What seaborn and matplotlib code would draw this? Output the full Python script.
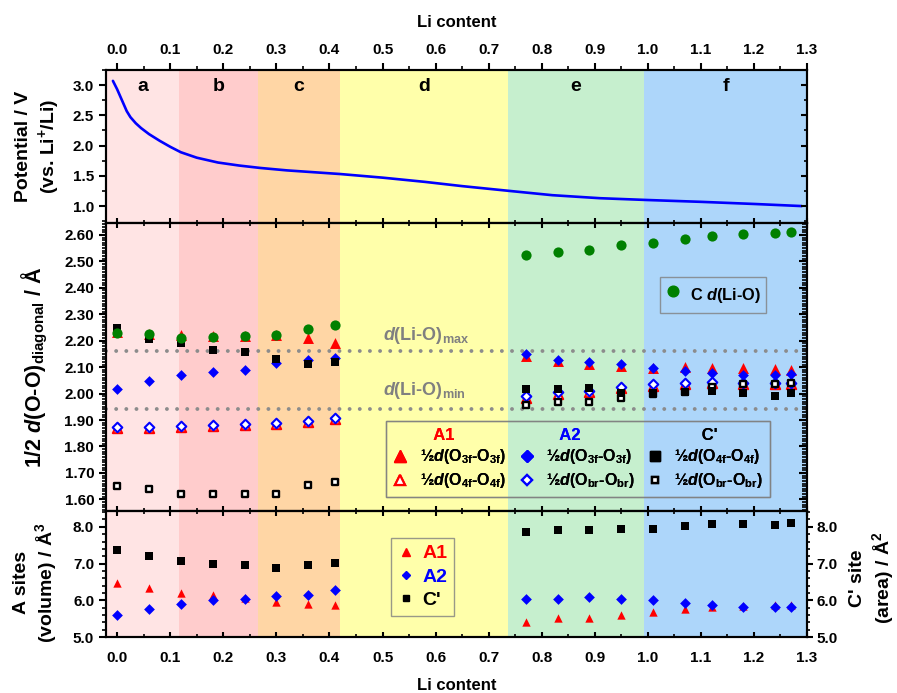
import matplotlib
matplotlib.use("Agg")
import matplotlib.pyplot as plt
import seaborn as sns
from matplotlib.ticker import MultipleLocator, FormatStrFormatter
from matplotlib.lines import Line2D

# ---------------- data ----------------
li_curve = [-0.008, 0.0, 0.01, 0.018, 0.025, 0.035, 0.045, 0.06, 0.08, 0.10, 0.12,
            0.15, 0.19, 0.23, 0.27, 0.32, 0.37, 0.42, 0.50, 0.58, 0.65, 0.74,
            0.82, 0.91, 1.00, 1.10, 1.20, 1.29]
pot_curve = [3.07, 2.93, 2.73, 2.57, 2.47, 2.37, 2.29, 2.19, 2.08, 1.98, 1.89,
             1.80, 1.72, 1.67, 1.63, 1.59, 1.56, 1.53, 1.47, 1.40, 1.33, 1.25,
             1.18, 1.13, 1.10, 1.07, 1.035, 1.00]

region_names = ['a', 'b', 'c', 'd', 'e', 'f']
region_edges = [-0.021, 0.117, 0.266, 0.42, 0.736, 0.993, 1.3]
region_colors = ['#FFE4E4', '#FFCCCC', '#FFD6A5', '#FFFFAA', '#C6EFCE', '#ADD6FA']

li_left = [0.0, 0.06, 0.12, 0.18, 0.24, 0.30, 0.36, 0.41]
li_right = [0.77, 0.83, 0.89, 0.95, 1.01, 1.07, 1.12, 1.18, 1.24, 1.27]
li_pts = li_left + li_right

# middle panel: 1/2 d(O-O) diagonal / Angstrom
c_li_o = [2.228, 2.224, 2.212, 2.214, 2.217, 2.220, 2.246, 2.258,
          2.524, 2.537, 2.543, 2.560, 2.571, 2.586, 2.596, 2.605, 2.609, 2.610]
a1_o3f = [2.232, 2.227, 2.222, 2.217, 2.216, 2.222, 2.209, 2.193,
          2.143, 2.125, 2.113, 2.103, 2.098, 2.100, 2.097, 2.096, 2.092, 2.090]
a1_o4f = [1.870, 1.871, 1.873, 1.877, 1.881, 1.885, 1.893, 1.903,
          1.985, 2.000, 2.006, 2.021, 2.030, 2.035, 2.040, 2.035, 2.035, 2.035]
a2_o3f = [2.016, 2.046, 2.069, 2.080, 2.090, 2.114, 2.127, 2.133,
          2.150, 2.127, 2.121, 2.111, 2.098, 2.087, 2.077, 2.070, 2.070, 2.073]
a2_obr = [1.874, 1.875, 1.877, 1.881, 1.885, 1.889, 1.896, 1.906,
          1.990, 2.005, 2.010, 2.026, 2.035, 2.040, 2.045, 2.040, 2.040, 2.040]
cp_o4f = [2.247, 2.205, 2.190, 2.165, 2.156, 2.131, 2.112, 2.120,
          2.016, 2.017, 2.020, 2.001, 2.001, 2.007, 2.011, 2.001, 1.991, 2.001]
cp_obr = [1.650, 1.640, 1.621, 1.621, 1.621, 1.622, 1.654, 1.664,
          1.957, 1.967, 1.967, 1.982, 2.000, 2.005, 2.024, 2.035, 2.035, 2.039]
dli_max = 2.16
dli_min = 1.94

# bottom panel: site volumes / areas
vol_a1 = [6.48, 6.34, 6.19, 6.13, 6.05, 5.95, 5.89, 5.86,
          5.40, 5.52, 5.52, 5.60, 5.67, 5.76, 5.81, 5.85, 5.86, 5.88]
vol_a2 = [5.61, 5.75, 5.91, 6.00, 6.04, 6.11, 6.15, 6.28,
          6.04, 6.04, 6.09, 6.04, 6.00, 5.93, 5.88, 5.82, 5.82, 5.82]
area_cp = [7.38, 7.20, 7.08, 6.99, 6.97, 6.88, 6.96, 7.02,
           7.86, 7.91, 7.91, 7.93, 7.95, 8.03, 8.07, 8.07, 8.05, 8.11]

# ---------------- style ----------------
sns.set_style("ticks")
plt.rcParams.update({
    'font.family': ['Liberation Sans', 'DejaVu Sans'],
    'font.weight': 'bold',
    'axes.labelweight': 'bold',
    'mathtext.fontset': 'custom',
    'mathtext.rm': 'Liberation Sans:bold',
    'mathtext.it': 'Liberation Sans:italic:bold',
    'mathtext.bf': 'Liberation Sans:bold',
    'axes.edgecolor': 'black',
    'axes.labelcolor': 'black',
    'text.color': 'black',
    'xtick.color': 'black',
    'ytick.color': 'black',
    'axes.linewidth': 1.5,
})

RED, BLUE, GREEN, BLACK = '#FF0000', '#0000FF', '#008000', '#000000'

fig = plt.figure(figsize=(8.97, 6.93), dpi=100)
L, W = 0.1182, 0.7815
ax_top = fig.add_axes([L, 0.6782, W, 0.2208])
ax_mid = fig.add_axes([L, 0.2626, W, 0.4156], sharex=ax_top)
ax_bot = fig.add_axes([L, 0.0808, W, 0.1818], sharex=ax_top)

xlim = (region_edges[0], region_edges[-1])
for ax in (ax_top, ax_mid, ax_bot):
    for lo, hi, col in zip(region_edges[:-1], region_edges[1:], region_colors):
        ax.axvspan(lo, hi, color=col, lw=0, zorder=0)

# ---- top panel ----
sns.lineplot(x=li_curve, y=pot_curve, ax=ax_top, color=BLUE, linewidth=1.9,
             sort=False, estimator=None)
for lo, hi, name in zip(region_edges[:-1], region_edges[1:], region_names):
    ax_top.text((lo + hi) / 2, 0.89, name, transform=ax_top.get_xaxis_transform(),
                ha='center', va='center', fontsize=14, fontweight='bold')


def pts(ax, y, marker, s, face, edge, lw, z):
    sns.scatterplot(x=li_pts, y=y, ax=ax, marker=marker, s=s, color=face,
                    edgecolor=edge, linewidth=lw, zorder=z, legend=False)


# ---- middle panel ----
ax_mid.axhline(dli_max, color='#8C8C8C', lw=2.8, linestyle=(0, (0.01, 2.6)),
               dash_capstyle='round', zorder=1)
ax_mid.axhline(dli_min, color='#8C8C8C', lw=2.8, linestyle=(0, (0.01, 2.6)),
               dash_capstyle='round', zorder=1)
ax_mid.text(0.50, dli_max + 0.042, r"$d$(Li-O)$_{\mathrm{max}}$", color='#808080',
            fontsize=13, fontweight='bold', va='baseline', ha='left')
ax_mid.text(0.50, dli_min + 0.055, r"$d$(Li-O)$_{\mathrm{min}}$", color='#808080',
            fontsize=13, fontweight='bold', va='baseline', ha='left')

pts(ax_mid, a1_o3f, '^', 62, RED, RED, 0, 2)
pts(ax_mid, a1_o4f, '^', 45, 'white', RED, 1.5, 2.1)
pts(ax_mid, a2_o3f, 'D', 30, BLUE, BLUE, 0, 2.2)
pts(ax_mid, a2_obr, 'D', 24, 'white', BLUE, 1.5, 2.3)
pts(ax_mid, cp_obr, 's', 16, 'white', BLACK, 1.7, 2.4)
pts(ax_mid, cp_o4f, 's', 40, BLACK, BLACK, 0, 2.5)
pts(ax_mid, c_li_o, 'o', 54, GREEN, GREEN, 0, 2.6)

h_c = Line2D([], [], ls='none', marker='o', ms=7.7, color=GREEN, mec=GREEN)
leg1 = ax_mid.legend([h_c], [r"C $d$(Li-O)"], loc='center', bbox_to_anchor=(0.866, 0.75),
                     frameon=True, fancybox=False, edgecolor='#808080', facecolor='none',
                     fontsize=11.8, handlelength=0.9, handletextpad=0.6, borderpad=0.3,
                     handleheight=2.0)
leg1.get_frame().set_linewidth(1.0)
ax_mid.add_artist(leg1)

blank = Line2D([], [], ls='none')
h_a1f = Line2D([], [], ls='none', marker='^', ms=8.5, color=RED, mec=RED)
h_a1o = Line2D([], [], ls='none', marker='^', ms=7.3, mfc='white', mec=RED, mew=1.6)
h_a2f = Line2D([], [], ls='none', marker='D', ms=6.0, color=BLUE, mec=BLUE)
h_a2o = Line2D([], [], ls='none', marker='D', ms=5.2, mfc='white', mec=BLUE, mew=1.6)
h_cf = Line2D([], [], ls='none', marker='s', ms=6.5, color=BLACK, mec=BLACK)
h_co = Line2D([], [], ls='none', marker='s', ms=5.0, mfc='white', mec=BLACK, mew=1.7)
lab_o3f = r"½$d$(O$_{\mathrm{3f}}$-O$_{\mathrm{3f}}$)"
lab_o4f = r"½$d$(O$_{\mathrm{4f}}$-O$_{\mathrm{4f}}$)"
lab_obr = r"½$d$(O$_{\mathrm{br}}$-O$_{\mathrm{br}}$)"
handles = [blank, h_a1f, h_a1o, blank, h_a2f, h_a2o, blank, h_cf, h_co]
labels = ['   A1', lab_o3f, lab_o4f, '   A2', lab_o3f, lab_obr, "      C'", lab_o4f, lab_obr]
leg2 = ax_mid.legend(handles, labels, ncol=3, loc='center', bbox_to_anchor=(0.673, 0.181),
                     frameon=True, fancybox=False, edgecolor='#808080', facecolor='none',
                     fontsize=11.5, handlelength=1.0, handletextpad=0.7, columnspacing=0.8,
                     labelspacing=0.3, borderpad=0.4)
leg2.get_frame().set_linewidth(1.0)
for i, col in zip((0, 3, 6), (RED, BLUE, BLACK)):
    leg2.get_texts()[i].set_color(col)
    leg2.get_texts()[i].set_fontsize(12)
ax_mid.add_artist(leg2)

# ---- bottom panel ----
ax_bot_r = ax_bot.twinx()
pts(ax_bot, vol_a1, '^', 36, RED, RED, 0, 2)
pts(ax_bot, vol_a2, 'D', 30, BLUE, BLUE, 0, 2.2)
pts(ax_bot_r, area_cp, 's', 32, BLACK, BLACK, 0, 2.4)

hb1 = Line2D([], [], ls='none', marker='^', ms=6.2, color=RED, mec=RED)
hb2 = Line2D([], [], ls='none', marker='D', ms=4.5, color=BLUE, mec=BLUE)
hb3 = Line2D([], [], ls='none', marker='s', ms=5.0, color=BLACK, mec=BLACK)
leg3 = ax_bot.legend([hb1, hb2, hb3], ['A1', 'A2', "C'"], loc='center',
                     bbox_to_anchor=(0.4515, 0.476), frameon=True, fancybox=False,
                     edgecolor='#808080', facecolor='none', fontsize=14,
                     handlelength=0.8, handletextpad=0.45, labelspacing=0.3, borderpad=0.35)
leg3.get_frame().set_linewidth(1.0)
for t, col in zip(leg3.get_texts(), (RED, BLUE, BLACK)):
    t.set_color(col)

# ---- axes limits & ticks ----
ax_top.set_xlim(*xlim)
ax_top.set_ylim(0.72, 3.25)
ax_mid.set_ylim(1.556, 2.645)
ax_bot.set_ylim(5.0, 8.43)
ax_bot_r.set_ylim(5.0, 8.43)

ax_top.xaxis.set_major_locator(MultipleLocator(0.1))
ax_top.xaxis.set_minor_locator(MultipleLocator(0.05))
ax_top.xaxis.set_major_formatter(FormatStrFormatter('%.1f'))

ax_top_r = ax_top.twinx()
ax_top_r.set_ylim(0.72, 3.25)
ax_mid_r = ax_mid.twinx()
ax_mid_r.set_ylim(1.556, 2.645)

for ax, maj, mnr, fmt in ((ax_top, 0.5, 0.25, '%.1f'), (ax_top_r, 0.5, 0.25, '%.1f'),
                          (ax_mid, 0.1, 0.01, '%.2f'), (ax_mid_r, 0.1, 0.01, '%.2f'),
                          (ax_bot, 1.0, 0.2, '%.1f'), (ax_bot_r, 1.0, 0.2, '%.1f')):
    ax.yaxis.set_major_locator(MultipleLocator(maj))
    ax.yaxis.set_minor_locator(MultipleLocator(mnr))
    ax.yaxis.set_major_formatter(FormatStrFormatter(fmt))
    for s in ax.spines.values():
        s.set_linewidth(1.5)

TL = 11
# x ticks
ax_top.tick_params(axis='x', which='major', direction='out', length=5, width=1.5,
                   top=True, bottom=True, labeltop=True, labelbottom=False, pad=4, labelsize=TL)
ax_top.tick_params(axis='x', which='minor', direction='out', length=3, width=1.2,
                   top=True, bottom=True)
ax_mid.tick_params(axis='x', which='major', direction='inout', length=7.2, width=1.5,
                   top=True, bottom=True, labeltop=False, labelbottom=False)
ax_mid.tick_params(axis='x', which='minor', direction='inout', length=4.2, width=1.2,
                   top=True, bottom=True)
ax_bot.tick_params(axis='x', which='major', direction='in', length=3.6, width=1.5,
                   top=True, bottom=True, labeltop=False, labelbottom=True, pad=10, labelsize=TL)
ax_bot.tick_params(axis='x', which='minor', direction='in', length=2.2, width=1.2,
                   top=True, bottom=True)
# y ticks left
for ax in (ax_top, ax_mid, ax_bot):
    ax.tick_params(axis='y', which='major', direction='out', length=5, width=1.5,
                   left=True, right=False, labelleft=True, labelright=False, pad=3.5, labelsize=TL)
    ax.tick_params(axis='y', which='minor', direction='out', length=3, width=1.2,
                   left=True, right=False)
# y ticks right
for ax, lm, ln in ((ax_top_r, 4, 2.5), (ax_mid_r, 5.5, 3.5)):
    ax.tick_params(axis='y', which='major', direction='in', length=lm, width=1.5,
                   left=False, right=True, labelleft=False, labelright=False)
    ax.tick_params(axis='y', which='minor', direction='in', length=ln, width=1.2,
                   left=False, right=True)
ax_bot_r.tick_params(axis='y', which='major', direction='out', length=4, width=1.5,
                     left=False, right=True, labelleft=False, labelright=True, pad=2.5, labelsize=TL)
ax_bot_r.tick_params(axis='y', which='minor', direction='out', length=2.5, width=1.2,
                     left=False, right=True)

# ---- labels ----
ax_top.set_ylabel("Potential / V\n(vs. Li$^{\\mathrm{+}}$/Li)", fontsize=14, va='center')
ax_top.yaxis.set_label_coords(-0.096, 0.5)
ax_mid.set_ylabel(r"1/2 $d$(O-O)$_{\mathrm{diagonal}}$ / Å", fontsize=15.5, va='center')
ax_mid.yaxis.set_label_coords(-0.101, 0.5)
ax_bot.set_ylabel("A sites\n(volume) / Å$^{\\mathrm{3}}$", fontsize=14, va='center')
ax_bot.yaxis.set_label_coords(-0.100, 0.43)
ax_bot_r.set_ylabel("C' site\n(area) / Å$^{\\mathrm{2}}$", fontsize=14, va='center',
                    rotation=90)
ax_bot_r.yaxis.set_label_coords(1.093, 0.47)
ax_top_r.set_ylabel('')
ax_mid_r.set_ylabel('')

ax_top.xaxis.set_label_position('top')
ax_top.set_xlabel("Li content", fontsize=12, va='center')
ax_top.xaxis.set_label_coords(0.5, 1.309)
ax_mid.set_xlabel('')
ax_bot.set_xlabel("Li content", fontsize=12, va='center')
ax_bot.xaxis.set_label_coords(0.5, -0.381)

fig.savefig("out.png", dpi=100)
